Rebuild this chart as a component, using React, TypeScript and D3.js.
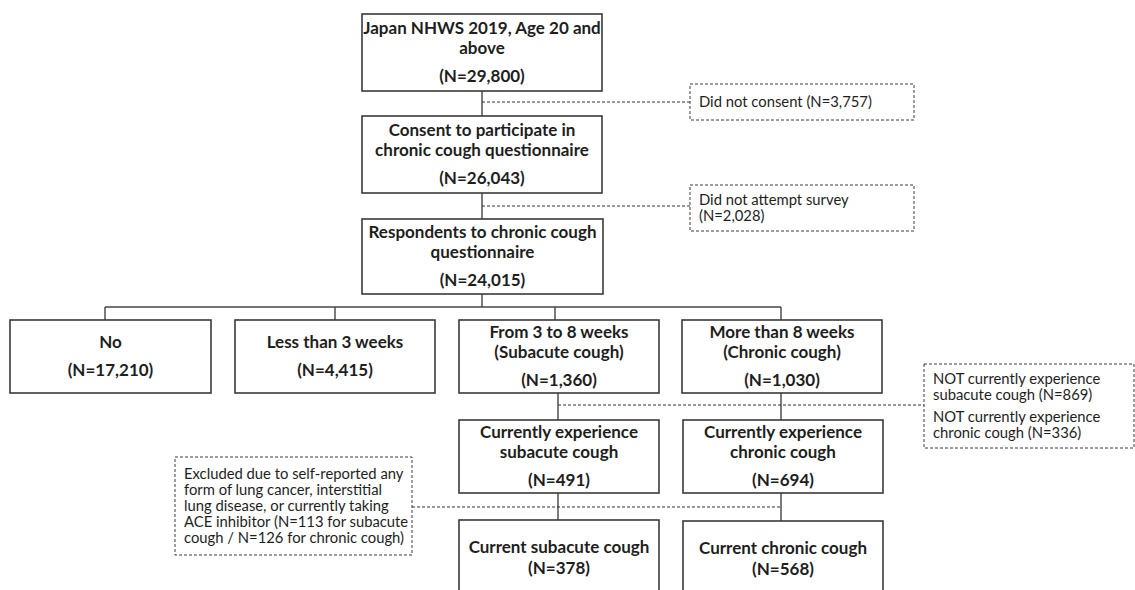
import * as d3 from "d3";

// flow boxes: title lines and counts
const mainIds = ["total", "consent", "resp", "no", "lt3", "sub", "chr", "curSub", "curChr", "finSub", "finChr"];
const mainTitles = [
  ["Japan NHWS 2019, Age 20 and", "above"],
  ["Consent to participate in", "chronic cough questionnaire"],
  ["Respondents to chronic cough", "questionnaire"],
  ["No"],
  ["Less than 3 weeks"],
  ["From 3 to 8 weeks", "(Subacute cough)"],
  ["More than 8 weeks", "(Chronic cough)"],
  ["Currently experience", "subacute cough"],
  ["Currently experience", "chronic cough"],
  ["Current subacute cough"],
  ["Current chronic cough"],
];
const mainCounts = [29800, 26043, 24015, 17210, 4415, 1360, 1030, 491, 694, 378, 568];

// exclusion boxes (dashed)
const exclIds = ["noConsent", "noAttempt", "notCurrent", "excluded"];
const exclLines = [
  [["Did not consent (N=3,757)"]],
  [["Did not attempt survey", "(N=2,028)"]],
  [
    ["NOT currently experience", "subacute cough (N=869)"],
    ["NOT currently experience", "chronic cough (N=336)"],
  ],
  [[
    "Excluded due to self-reported any",
    "form of lung cancer, interstitial",
    "lung disease, or currently taking",
    "ACE inhibitor (N=113 for subacute",
    "cough / N=126 for chronic cough)",
  ]],
];

// layout (pixels)
const W = 1135;
const H = 590;
type Box = { x: number; y: number; w: number; h: number; gap?: number };
const mainLayout: Record<string, Box> = {
  total: { x: 362, y: 14, w: 240, h: 77 },
  consent: { x: 362, y: 116, w: 240, h: 77 },
  resp: { x: 362, y: 219, w: 241, h: 75 },
  no: { x: 10, y: 320, w: 201, h: 73 },
  lt3: { x: 235, y: 320, w: 200, h: 73 },
  sub: { x: 459, y: 320, w: 200, h: 73 },
  chr: { x: 682, y: 320, w: 200, h: 73 },
  curSub: { x: 459, y: 420, w: 200, h: 73 },
  curChr: { x: 683, y: 420, w: 200, h: 73 },
  finSub: { x: 459, y: 520, w: 200, h: 76, gap: 21 },
  finChr: { x: 683, y: 521, w: 200, h: 76, gap: 21 },
};
const exclLayout: Record<string, Box> = {
  noConsent: { x: 690, y: 84, w: 224, h: 36 },
  noAttempt: { x: 690, y: 185, w: 224, h: 46 },
  notCurrent: { x: 924, y: 364, w: 210, h: 84 },
  excluded: { x: 175, y: 457, w: 237, h: 98 },
};

const fmt = d3.format(",");
const font = "Lato, 'Open Sans', sans-serif";
const ink = "#1e1e1e";
const edge = "#3a3a3a";

function MainBox({ id, i }: { id: string; i: number }) {
  const b = mainLayout[id];
  const lines = mainTitles[i];
  const gap = b.gap ?? 28;
  const lh = 20;
  const blockH = (lines.length - 1) * lh + gap;
  const cx = b.x + b.w / 2;
  const top = b.y + b.h / 2 - blockH / 2;
  return (
    <g>
      <rect x={b.x} y={b.y} width={b.w} height={b.h} fill="#fff" stroke={edge} strokeWidth={1.6} />
      {lines.map((t, k) => (
        <text key={k} x={cx} y={top + k * lh} dy="0.35em" textAnchor="middle"
          fontFamily={font} fontWeight={700} fontSize={17} fill={ink}>{t}</text>
      ))}
      <text x={cx} y={top + blockH} dy="0.35em" textAnchor="middle"
        fontFamily={font} fontWeight={700} fontSize={17} fill={ink}>{`(N=${fmt(mainCounts[i])})`}</text>
    </g>
  );
}

function ExclBox({ id, i }: { id: string; i: number }) {
  const b = exclLayout[id];
  const groups = exclLines[i];
  const lh = 16;
  const groupGap = 6;
  const total = groups.reduce((s, g) => s + g.length, 0);
  const blockH = (total - 1) * lh + (groups.length - 1) * groupGap;
  let y = b.y + b.h / 2 - blockH / 2;
  const items: { t: string; y: number }[] = [];
  groups.forEach((g, gi) => {
    g.forEach((t) => {
      items.push({ t, y });
      y += lh;
    });
    if (gi < groups.length - 1) y += groupGap;
  });
  return (
    <g>
      <rect x={b.x} y={b.y} width={b.w} height={b.h} fill="#fff" stroke={edge}
        strokeWidth={1} strokeDasharray="3,2" />
      {items.map((d, k) => (
        <text key={k} x={b.x + 9} y={d.y} dy="0.35em" fontFamily={font}
          fontSize={14.8} fill={ink}>{d.t}</text>
      ))}
    </g>
  );
}

export default function App() {
  const m = mainLayout;
  const e = exclLayout;
  const bottom = (b: Box) => b.y + b.h;
  const link = d3.line<[number, number]>();
  const cx = 482;
  const branchY = 307;
  const rowIds = ["no", "lt3", "sub", "chr"];
  const rowX = [105, 335, 555, 781];
  const solid = [
    link([[cx, bottom(m.total)], [cx, m.consent.y]]),
    link([[cx, bottom(m.consent)], [cx, m.resp.y]]),
    link([[cx, bottom(m.resp)], [cx, branchY]]),
    link([[rowX[0], branchY], [rowX[3], branchY]]),
    ...rowIds.map((id, k) => link([[rowX[k], branchY], [rowX[k], m[id].y]])),
    link([[558, bottom(m.sub)], [558, m.curSub.y]]),
    link([[781, bottom(m.chr)], [781, m.curChr.y]]),
    link([[558, bottom(m.curSub)], [558, m.finSub.y]]),
    link([[781, bottom(m.curChr)], [781, m.finChr.y]]),
  ];
  const dashed = [
    link([[cx, 102], [e.noConsent.x, 102]]),
    link([[cx, 206], [e.noAttempt.x, 206]]),
    link([[558, 405], [e.notCurrent.x, 405]]),
    link([[e.excluded.x + e.excluded.w, 507], [781, 507]]),
  ];
  return (
    <svg width={W} height={H} style={{ position: "absolute", left: 0, top: 0, background: "#fff" }}>
      {solid.map((d, k) => (
        <path key={k} d={d ?? ""} stroke="#444" strokeWidth={1.4} fill="none" />
      ))}
      {dashed.map((d, k) => (
        <path key={k} d={d ?? ""} stroke="#333" strokeWidth={1} strokeDasharray="3,2" fill="none" />
      ))}
      {mainIds.map((id, i) => <MainBox key={id} id={id} i={i} />)}
      {exclIds.map((id, i) => <ExclBox key={id} id={id} i={i} />)}
    </svg>
  );
}
